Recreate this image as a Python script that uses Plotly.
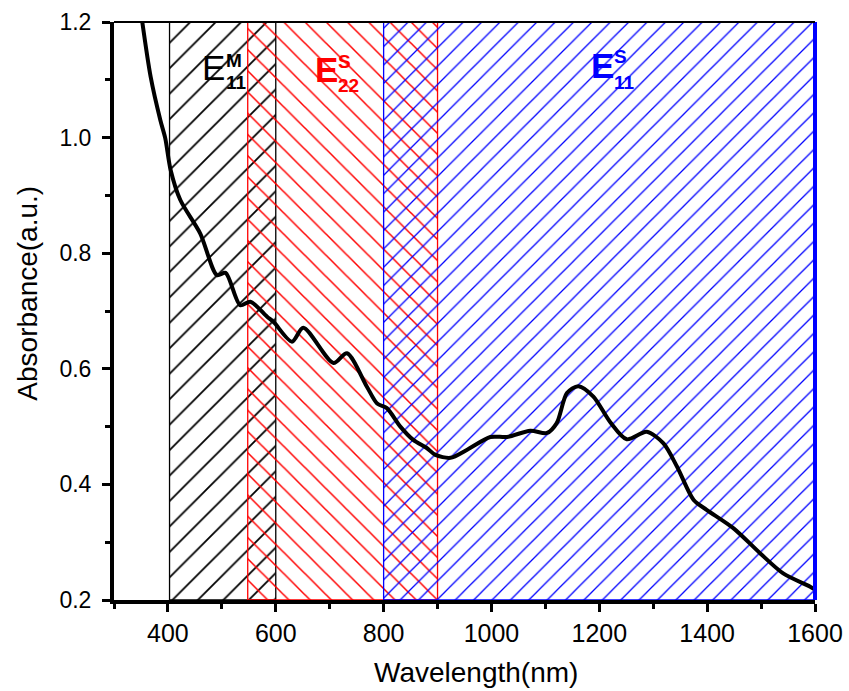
import plotly.graph_objects as go

# ---- data ----
wavelength = [352, 368, 386, 395, 405, 423, 460, 491, 507, 534, 553, 584, 596, 630,
              651, 707, 732, 769, 788, 806, 831, 855, 880, 896, 924, 955, 998, 1029,
              1072, 1103, 1121, 1140, 1161, 1189, 1220, 1251, 1288, 1319, 1344, 1375,
              1399, 1449, 1498, 1541, 1591, 1600]
absorbance = [1.203, 1.105, 1.030, 0.999, 0.944, 0.892, 0.834, 0.762, 0.766, 0.710,
              0.716, 0.690, 0.681, 0.647, 0.671, 0.610, 0.627, 0.569, 0.540, 0.532,
              0.500, 0.477, 0.463, 0.451, 0.446, 0.460, 0.482, 0.482, 0.493, 0.489,
              0.506, 0.558, 0.570, 0.552, 0.508, 0.478, 0.491, 0.471, 0.431, 0.373,
              0.356, 0.324, 0.281, 0.246, 0.223, 0.218]

region_names = ["M11", "S22", "S11"]
region_start = [403, 548, 800]
region_end = [600, 900, 1600]
region_colors = ["black", "red", "blue"]
region_hatch = ["/", "\\", "/"]
region_hatch_size = [18, 15, 13]

y_min, y_max = 0.2, 1.2
x_min, x_max = 300, 1600

FONT = "Liberation Sans, Arial, Helvetica, sans-serif"

fig = go.Figure()

for name, x0, x1, col, hatch, hs in zip(region_names, region_start, region_end,
                                          region_colors, region_hatch, region_hatch_size):
    fig.add_trace(go.Scatter(
        x=[x0, x1, x1, x0, x0], y=[y_min, y_min, y_max, y_max, y_min],
        mode="lines", fill="toself", fillcolor="rgba(0,0,0,0)",
        line=dict(color=col, width=1.3),
        fillpattern=dict(shape=hatch, size=hs, solidity=0.1, fgcolor=col,
                         fgopacity=1, bgcolor="rgba(0,0,0,0)"),
        hoverinfo="skip", showlegend=False, name=name))

fig.add_trace(go.Scatter(
    x=wavelength, y=absorbance, mode="lines",
    line=dict(color="black", width=4, shape="spline", smoothing=0.8),
    showlegend=False, cliponaxis=True))

# right edge of blue region (thick)
fig.add_shape(type="line", xref="paper", yref="paper", x0=1, x1=1, y0=0, y1=1,
              line=dict(color="blue", width=4), layer="above")
# top frame line
fig.add_shape(type="line", xref="paper", yref="paper", x0=0, x1=1, y0=1, y1=1,
              line=dict(color="black", width=2), layer="above")

# region labels (E with stacked super/subscripts)
labels = [
    # (text, x, y, size, color)
    ("E", 484, 1.121, 35, "black"),
    ("<b>M</b>", 523, 1.134, 19, "black"),
    ("<b>11</b>", 528, 1.095, 19, "black"),
    ("<b>E</b>", 694, 1.117, 35, "red"),
    ("<b>S</b>", 727, 1.132, 19, "red"),
    ("<b>22</b>", 735, 1.091, 19, "red"),
    ("<b>E</b>", 1205, 1.124, 35, "blue"),
    ("<b>S</b>", 1240, 1.140, 19, "blue"),
    ("<b>11</b>", 1246, 1.095, 19, "blue"),
]
for t, x, y, s, c in labels:
    fig.add_annotation(text=t, x=x, y=y, xref="x", yref="y", showarrow=False,
                       xanchor="center", yanchor="middle",
                       font=dict(family=FONT, size=s, color=c))

fig.add_annotation(text="Wavelength(nm)", xref="paper", yref="paper", x=0.5168, y=-0.1246,
                   showarrow=False, xanchor="center", yanchor="middle",
                   font=dict(family=FONT, size=28, color="black"))
fig.add_annotation(text="Absorbance(a.u.)", xref="paper", yref="paper", x=-0.1233, y=0.531,
                   showarrow=False, xanchor="center", yanchor="middle", textangle=-90,
                   font=dict(family=FONT, size=28, color="black"))

fig.update_xaxes(range=[x_min, x_max], tick0=400, dtick=200, ticks="outside",
                 ticklen=8, tickwidth=3, tickcolor="black", showline=True,
                 linecolor="black", linewidth=4, showgrid=False, zeroline=False,
                 tickfont=dict(family=FONT, size=25, color="black"),
                 minor=dict(dtick=100, tick0=300, ticks="outside", ticklen=5,
                            tickwidth=2.5, tickcolor="black", showgrid=False),
                 automargin=False)
fig.update_yaxes(range=[y_min, y_max], tick0=0.2, dtick=0.2, ticks="outside",
                 ticklen=8, tickwidth=3, tickcolor="black", showline=True,
                 linecolor="black", linewidth=4, showgrid=False, zeroline=False,
                 tickformat=".1f", ticklabelstandoff=6,
                 tickfont=dict(family=FONT, size=23, color="black"),
                 minor=dict(dtick=0.1, ticks="outside", ticklen=5, tickwidth=2.5,
                            tickcolor="black", showgrid=False),
                 automargin=False)

fig.update_layout(width=849, height=691, margin=dict(l=114, r=34, t=22, b=91),
                  plot_bgcolor="white", paper_bgcolor="white",
                  font=dict(family=FONT))

fig.write_html("out.html")
